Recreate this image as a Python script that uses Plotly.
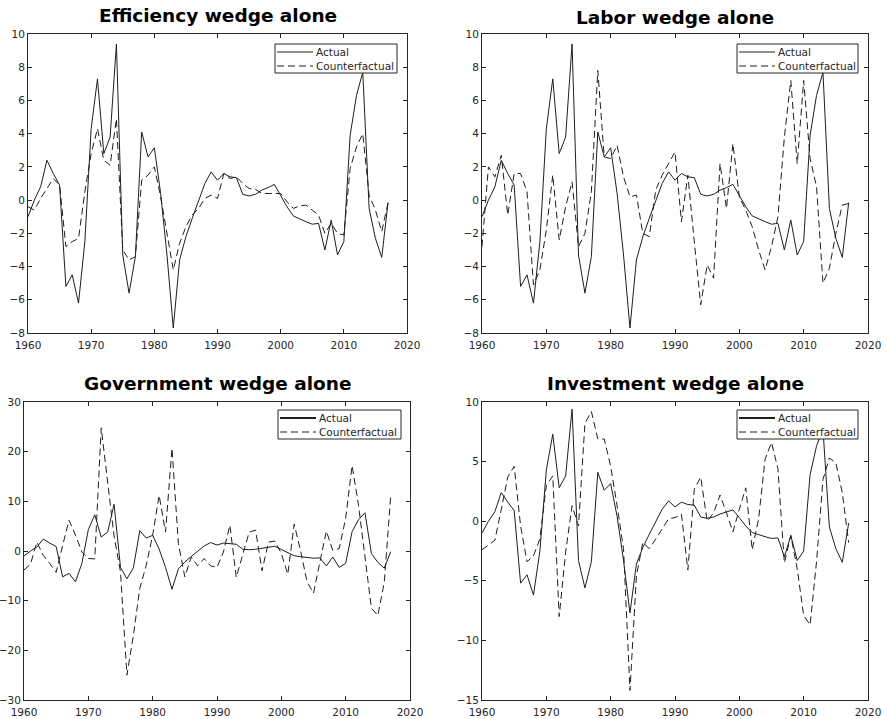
import plotly.graph_objects as go

years = list(range(1960, 2018))

actual = [-1.0, 0.0, 0.8, 2.4, 1.6, 0.9, -5.2, -4.5, -6.2, -2.5,
          4.3, 7.3, 2.8, 3.8, 9.4, -3.3, -5.6, -3.4, 4.1, 2.6,
          3.15, 0.4, -3.3, -7.7, -3.6, -2.2, -1.1, -0.1, 1.0, 1.7,
          1.2, 1.6, 1.4, 1.35, 0.35, 0.25, 0.35, 0.6, 0.75, 0.95,
          0.3, -0.4, -0.95, -1.15, -1.3, -1.45, -1.4, -3.0, -1.2, -3.3,
          -2.5, 3.9, 6.3, 7.7, -0.5, -2.3, -3.45, -0.15]

cf_efficiency = [-0.4, -0.6, 0.1, 0.7, 1.3, 0.9, -2.8, -2.5, -2.3, 0.5,
                 2.8, 4.3, 2.4, 2.1, 4.9, -3.0, -3.6, -3.4, 1.2, 1.5,
                 2.0, 0.2, -2.0, -4.2, -2.6, -1.6, -0.9, -0.5, 0.1, 0.3,
                 0.1, 1.6, 1.3, 1.4, 1.0, 0.7, 0.65, 0.4, 0.4, 0.4,
                 0.4, -0.1, -0.5, -0.35, -0.3, -0.6, -0.9, -2.0, -1.4, -2.0,
                 -2.1, 1.9, 3.2, 4.0, 0.3, -0.6, -1.9, -0.15]

cf_labor = [-2.8, 2.0, 1.4, 2.7, -0.9, 1.6, 1.6, 0.5, -5.1, -4.2,
            -1.8, 1.5, -2.4, -0.4, 1.1, -2.8, -2.0, 0.5, 7.8, 2.6,
            2.5, 3.3, 1.4, 0.2, 0.3, -2.0, -2.2, 0.6, 1.5, 2.2,
            2.9, -1.3, 1.5, -2.5, -6.3, -3.9, -4.7, 2.2, -0.5, 3.4,
            0.2, -0.6, -1.6, -3.0, -4.2, -2.8, -1.0, 3.8, 7.2, 2.2,
            7.2, 2.5, 0.8, -5.0, -4.1, -2.0, -0.3, -0.2]

cf_government = [-3.8, -2.7, 1.8, -0.9, -2.5, -4.3, 1.1, 6.2, 3.2, -0.2,
                 -1.5, -1.6, 24.8, 13.9, 3.0, -4.2, -25.0, -17.0, -7.5, -2.9,
                 3.2, 11.2, 3.8, 20.7, 1.5, -5.2, -1.2, -3.0, -1.5, -3.0,
                 -3.3, -0.2, 5.2, -5.3, -0.5, 3.8, 4.2, -4.0, 1.8, 2.0,
                 -0.5, -4.7, 5.4, 0.0, -6.2, -8.5, -2.2, 4.0, 0.1, 0.5,
                 6.6, 17.2, 9.2, -1.5, -11.5, -13.0, -6.3, 11.0]

cf_investment = [-2.4, -2.0, -1.6, 1.0, 3.7, 4.6, -0.4, -3.4, -2.9, -1.5,
                 3.0, 3.8, -8.0, -2.6, 1.3, -0.4, 8.2, 9.2, 6.9, 6.9,
                 4.6, 1.3, -2.3, -14.2, -4.6, -1.8, -2.3, -1.5, -0.6, 0.2,
                 0.3, 0.6, -4.1, 2.7, 3.7, 0.0, 0.7, 2.2, 0.7, -0.9,
                 1.0, 2.8, -2.4, 0.2, 5.2, 6.6, 4.4, -3.5, -1.2, -4.0,
                 -7.9, -8.7, -3.4, 3.5, 5.3, 4.9, 2.4, -1.8]

titles = ["Efficiency wedge alone", "Labor wedge alone",
          "Government wedge alone", "Investment wedge alone"]
counterfactuals = [cf_efficiency, cf_labor, cf_government, cf_investment]
y_ranges = [[-8, 10], [-8, 10], [-30, 30], [-15, 10]]
y_dticks = [2, 2, 10, 5]
x_ticks = [1960, 1970, 1980, 1990, 2000, 2010, 2020]
legend_labels = ["Actual", "Counterfactual"]

W, H = 887, 719
# plot-area boxes in pixels: (left, top, right, bottom)
boxes = [(28, 34, 407, 333), (482, 34, 868, 333),
         (24, 402, 410, 700), (482, 402, 868, 700)]
legend_boxes = [(275, 44, 397, 73), (737, 44, 858, 73),
                (278, 410, 401, 439), (737, 410, 858, 439)]
title_y = [16, 18, 383, 383]

AX = "#262626"
LINE = "#1e1e1e"
FONT = "DejaVu Sans"
DASH = "7px,4px"

def px(x):
    return x / W

def py(y):
    return 1 - y / H

fig = go.Figure()
layout = dict(width=W, height=H,
              margin=dict(l=0, r=0, t=0, b=0, pad=0, autoexpand=False),
              paper_bgcolor="white", plot_bgcolor="white", showlegend=False)
annotations = []
shapes = []

for i in range(4):
    n = "" if i == 0 else str(i + 1)
    l, t, r, b = boxes[i]
    fig.add_trace(go.Scatter(x=years, y=actual, mode="lines", name=legend_labels[0],
                             line=dict(color=LINE, width=1),
                             xaxis="x" + n, yaxis="y" + n))
    fig.add_trace(go.Scatter(x=years, y=counterfactuals[i], mode="lines", name=legend_labels[1],
                             line=dict(color=LINE, width=1, dash=DASH),
                             xaxis="x" + n, yaxis="y" + n))
    common = dict(showline=True, linecolor=AX, linewidth=1, mirror="ticks",
                  ticks="inside", ticklen=4, tickcolor=AX, tickwidth=1,
                  showgrid=False, zeroline=False, automargin=False,
                  tickfont=dict(family=FONT, size=10.5, color=AX))
    layout["xaxis" + n] = dict(common, domain=[px(l), px(r)], range=[1960, 2020],
                               tickvals=x_ticks, anchor="y" + n, ticklabelstandoff=2)
    layout["yaxis" + n] = dict(common, domain=[py(b), py(t)], range=y_ranges[i],
                               dtick=y_dticks[i], tick0=0, anchor="x" + n)
    annotations.append(dict(text=titles[i], xref="paper", yref="paper",
                            x=px((l + r) / 2), y=py(title_y[i]), xanchor="center", yanchor="middle",
                            showarrow=False,
                            font=dict(family=FONT, size=18.5, color="black", weight="bold")))
    # legend box
    lx0, ly0, lx1, ly1 = legend_boxes[i]
    shapes.append(dict(type="rect", xref="paper", yref="paper", layer="above",
                       x0=px(lx0), x1=px(lx1), y0=py(ly1), y1=py(ly0),
                       fillcolor="white", line=dict(color=AX, width=1)))
    rows = [ly0 + 8, ly0 + 22]
    sample_w = [1.0, 1.0] if i < 2 else [1.8, 1.0]
    dashes = ["solid", DASH]
    for k in range(2):
        shapes.append(dict(type="line", xref="paper", yref="paper", layer="above",
                           x0=px(lx0 + 2), x1=px(lx0 + 38), y0=py(rows[k]), y1=py(rows[k]),
                           line=dict(color=LINE, width=sample_w[k], dash=dashes[k])))
        annotations.append(dict(text=legend_labels[k], xref="paper", yref="paper",
                                x=px(lx0 + 39), y=py(rows[k]), xanchor="left", yanchor="middle",
                                showarrow=False,
                                font=dict(family=FONT, size=10.5, color=AX)))

layout["annotations"] = annotations
layout["shapes"] = shapes
fig.update_layout(**layout)
fig.write_html("out.html")
